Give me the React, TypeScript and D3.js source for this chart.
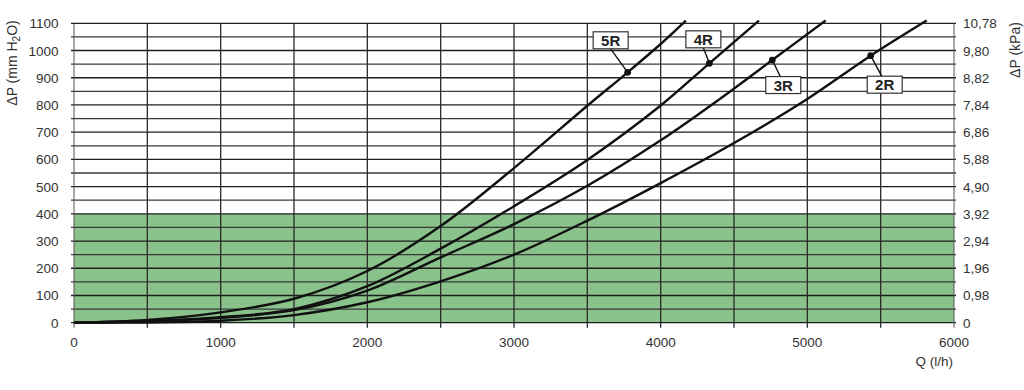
import React, { useEffect, useRef } from 'react';
import * as d3 from 'd3';

// flow rate Q (l/h) and pressure drop (mm H2O)
const q5R = [0, 500, 1000, 1500, 2000, 2500, 3000, 3500, 3775, 4000, 4172];
const p5R = [0, 10, 38, 88, 190, 355, 568, 797, 920, 1024, 1110];
const q4R = [0, 500, 1000, 1500, 2000, 2500, 3000, 3500, 4000, 4332, 4670];
const p4R = [0, 6, 20, 50, 134, 272, 428, 598, 798, 953, 1110];
const q3R = [0, 500, 1000, 1500, 2000, 2500, 3000, 3500, 4000, 4500, 4761, 5125];
const p3R = [0, 5, 18, 46, 118, 240, 362, 503, 670, 860, 965, 1110];
const q2R = [0, 500, 1000, 1500, 2000, 2500, 3000, 3500, 4000, 4500, 5000, 5432, 5814];
const p2R = [0, 1, 7, 28, 75, 152, 250, 375, 513, 660, 822, 981, 1110];

const seriesNames = ['5R', '4R', '3R', '2R'];
const markerQ = [3775, 4332, 4761, 5432];
const markerP = [920, 953, 965, 981];

const mmTicks = [0, 100, 200, 300, 400, 500, 600, 700, 800, 900, 1000, 1100];
const kpaLabels = ['0', '0,98', '1,96', '2,94', '3,92', '4,90', '5,88', '6,86', '7,84', '8,82', '9,80', '10,78'];
const qTicks = [0, 1000, 2000, 3000, 4000, 5000, 6000];
const greenLimit = 400;

function App() {
  const ref = useRef(null);

  useEffect(() => {
    document.body.style.margin = '0';
    const el = ref.current;
    if (!el) return;
    el.innerHTML = '';
    const width = 1024;
    const height = 390;
    const svg = d3.select(el).append('svg')
      .attr('width', width).attr('height', height)
      .style('display', 'block')
      .style('background', '#fff')
      .attr('font-family', 'Liberation Sans, Arial, sans-serif');

    const x = d3.scaleLinear().domain([0, 6000]).range([74, 954]);
    const y = d3.scaleLinear().domain([0, 1100]).range([322.7, 23.3]);

    // green zone
    svg.append('rect')
      .attr('x', x(0)).attr('y', y(greenLimit))
      .attr('width', x(6000) - x(0)).attr('height', y(0) - y(greenLimit))
      .attr('fill', '#89c28a');

    // horizontal grid every 50
    const hLines = d3.range(0, 1101, 50);
    svg.append('g').selectAll('line').data(hLines).enter().append('line')
      .attr('x1', x(0) - 3).attr('x2', x(6000) + 2)
      .attr('y1', (d) => y(d)).attr('y2', (d) => y(d))
      .attr('stroke', (d) => (d % 100 === 0 ? '#1e1e1e' : '#3a3a3a'))
      .attr('stroke-width', 1.3);

    // vertical grid every 500
    const vLines = d3.range(0, 6001, 500);
    svg.append('g').selectAll('line').data(vLines).enter().append('line')
      .attr('x1', (d) => x(d)).attr('x2', (d) => x(d))
      .attr('y1', y(1100)).attr('y2', y(0) + 5)
      .attr('stroke', (d) => (d === 0 || d === 6000 ? '#555' : '#2a2a2a'))
      .attr('stroke-width', (d) => (d === 0 || d === 6000 ? 1 : 1.3));

    // left ticks
    svg.append('g').selectAll('text').data(mmTicks).enter().append('text')
      .attr('x', 58.5).attr('y', (d) => y(d) + 5)
      .attr('text-anchor', 'end').attr('font-size', 13.5).attr('fill', '#333')
      .text((d) => d);

    // right ticks (kPa)
    svg.append('g').selectAll('text').data(mmTicks).enter().append('text')
      .attr('x', 963).attr('y', (d) => y(d) + 5)
      .attr('font-size', 13.5).attr('fill', '#333')
      .text((_, i) => kpaLabels[i]);

    // bottom ticks
    svg.append('g').selectAll('text').data(qTicks).enter().append('text')
      .attr('x', (d) => x(d)).attr('y', 346.5)
      .attr('text-anchor', 'middle').attr('font-size', 13.5).attr('fill', '#333')
      .text((d) => d);

    svg.append('text')
      .attr('x', 953).attr('y', 365.5)
      .attr('text-anchor', 'end').attr('font-size', 13.5).attr('fill', '#333')
      .text('Q (l/h)');

    const leftTitle = svg.append('text')
      .attr('transform', 'translate(17,63) rotate(-90)')
      .attr('text-anchor', 'middle').attr('font-size', 14).attr('fill', '#333');
    leftTitle.append('tspan').text('ΔP (mm H');
    leftTitle.append('tspan').attr('font-size', 10).attr('dy', 3).text('2');
    leftTitle.append('tspan').attr('dy', -3).text('O)');

    svg.append('text')
      .attr('transform', 'translate(1020,50) rotate(-90)')
      .attr('text-anchor', 'middle').attr('font-size', 14).attr('fill', '#333')
      .text('ΔP (kPa)');

    // curves
    const qs = [q5R, q4R, q3R, q2R];
    const ps = [p5R, p4R, p3R, p2R];
    const line = d3.line()
      .x((d) => x(d[0]))
      .y((d) => y(d[1]))
      .curve(d3.curveCatmullRom.alpha(0.5));

    qs.forEach((qArr, i) => {
      const pts = qArr.map((q, j) => [q, ps[i][j]]);
      svg.append('path')
        .datum(pts)
        .attr('fill', 'none')
        .attr('stroke', '#111')
        .attr('stroke-width', 2.4)
        .attr('d', line);
    });

    // labels with leader lines
    const boxOffset = [[-17, -32], [-6, -24], [11, 25], [14, 29]];
    const bw = 35;
    const bh = 17;
    seriesNames.forEach((name, i) => {
      const cx = x(markerQ[i]);
      const cy = y(markerP[i]);
      const bx = cx + boxOffset[i][0];
      const by = cy + boxOffset[i][1];
      const edgeY = boxOffset[i][1] < 0 ? by + bh / 2 : by - bh / 2;
      const edgeX = bx + (boxOffset[i][0] < 0 ? 0 : -3);
      svg.append('line')
        .attr('x1', cx).attr('y1', cy).attr('x2', edgeX).attr('y2', edgeY)
        .attr('stroke', '#111').attr('stroke-width', 1.4);
      svg.append('rect')
        .attr('x', bx - bw / 2).attr('y', by - bh / 2)
        .attr('width', bw).attr('height', bh)
        .attr('fill', '#fff').attr('stroke', '#333').attr('stroke-width', 1.2);
      svg.append('text')
        .attr('x', bx).attr('y', by + 5.5)
        .attr('text-anchor', 'middle').attr('font-size', 15).attr('font-weight', 'bold')
        .attr('fill', '#222')
        .text(name);
      svg.append('circle')
        .attr('cx', cx).attr('cy', cy).attr('r', 3.4).attr('fill', '#111');
    });
  }, []);

  return <div ref={ref} />;
}

export default App;
